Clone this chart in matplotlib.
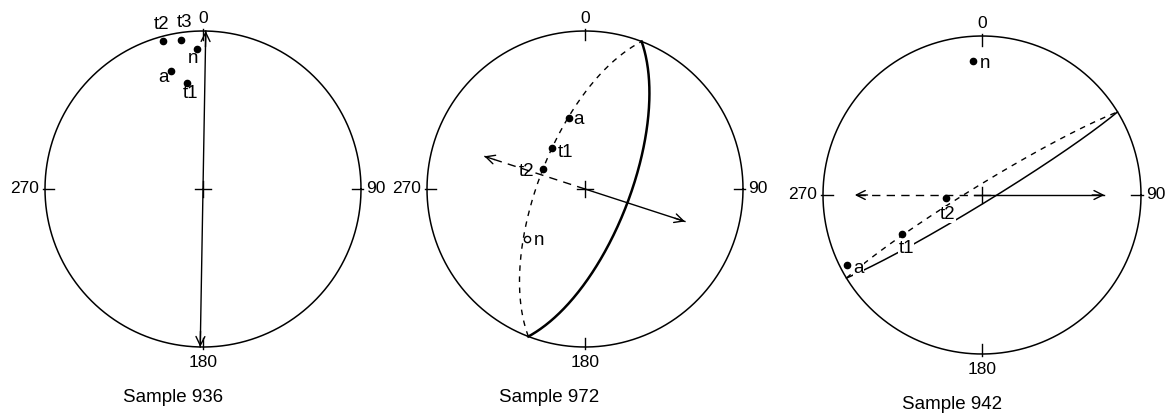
import numpy as np
import matplotlib.pyplot as plt

plt.rcParams['font.family'] = ['Liberation Sans', 'DejaVu Sans']

# ---- data (declination / inclination in degrees) ----
sample_names = ["Sample 936", "Sample 972", "Sample 942"]

# Sample 936
s936_labels = ["t2", "t3", "n", "a", "t1"]
s936_dec = [344.7, 351.5, 357.4, 344.8, 351.4]
s936_inc = [3.5, 5.4, 12.0, 23.6, 32.4]
s936_arrow_dec = [1.0, 181.0]
s936_arrow_len = [1.0, 1.0]
s936_arrow_style = ["solid", "solid"]
s936_plane_dipdir = []
s936_plane_dip = []
s936_plane_style = []

# Sample 972
s972_labels = ["a", "t1", "t2", "n"]
s972_dec = [347.2, 321.4, 295.3, 229.2]
s972_inc = [52.1, 62.9, 66.2, -49.7]   # negative = open symbol
s972_arrow_dec = [288.0, 108.0]
s972_arrow_len = [0.67, 0.665]
s972_arrow_style = ["dashed", "solid"]
s972_plane_dipdir = [291.0, 111.0]
s972_plane_dip = [66.0, 67.0]
s972_plane_style = ["dashed", "solid"]

# Sample 942
s942_labels = ["n", "t2", "t1", "a"]
s942_dec = [356.0, 265.7, 243.8, 242.6]
s942_inc = [16.4, 71.5, 43.3, 4.7]
s942_arrow_dec = [270.0, 90.0]
s942_arrow_len = [0.80, 0.77]
s942_arrow_style = ["dashed", "solid"]
s942_plane_dipdir = [328.5, 148.5]
s942_plane_dip = [85.0, 86.0]
s942_plane_style = ["dashed", "solid"]

# label offsets in pixels (right, down) -- layout only
s936_off = [(-1, -17), (4, -18), (-4, 10), (-7, 7), (4, 11)]
s972_off = [(10, 1), (13, 4), (-17, 2), (12, 1)]
s942_off = [(12, 3), (2, 17), (4, 14), (12, 3)]


def project(dec, inc):
    """Equal-area (Schmidt) projection, returns x (east), y (north)."""
    dec = np.radians(np.asarray(dec, float))
    colat = np.radians(90 - np.abs(np.asarray(inc, float)))
    r = np.sqrt(2) * np.sin(colat / 2)
    return r * np.sin(dec), r * np.cos(dec)


def great_circle(dip_dir, dip, n=300):
    s = np.radians(dip_dir - 90)
    d = np.radians(dip_dir)
    dp = np.radians(dip)
    phi = np.linspace(0, np.pi, n)
    N = np.cos(phi) * np.cos(s) + np.sin(phi) * np.cos(dp) * np.cos(d)
    E = np.cos(phi) * np.sin(s) + np.sin(phi) * np.cos(dp) * np.sin(d)
    D = np.sin(phi) * np.sin(dp)
    trend = np.degrees(np.arctan2(E, N))
    plunge = np.degrees(np.arcsin(np.clip(D, -1, 1)))
    return project(trend, plunge)


def draw_net(ax, name, name_x, labels, decs, incs, offs, arr_dec, arr_len,
             arr_style, pl_dd, pl_dip, pl_style, lw_plane, label_box):
    t = np.linspace(0, 2 * np.pi, 500)
    ax.plot(np.cos(t), np.sin(t), color='k', lw=1.1)
    for ang in (0, 90, 180, 270):
        sx, sy = np.sin(np.radians(ang)), np.cos(np.radians(ang))
        ax.plot([0.94 * sx, 1.01 * sx], [0.94 * sy, 1.01 * sy], color='k', lw=1)
    ax.plot([-0.05, 0.05], [0, 0], color='k', lw=1)
    ax.plot([0, 0], [-0.05, 0.05], color='k', lw=1)

    fs = 12.5
    ax.text(0, 1.03, "0", ha='center', va='bottom', fontsize=fs)
    ax.text(1.035, 0, "90", ha='left', va='center', fontsize=fs)
    ax.text(0, -1.05, "180", ha='center', va='top', fontsize=fs)
    ax.text(-1.035, 0, "270", ha='right', va='center', fontsize=fs)
    ax.text(name_x, -1.32, name, ha='center', va='center', fontsize=13.5)

    # planes
    for dd, dip, st in zip(pl_dd, pl_dip, pl_style):
        gx, gy = great_circle(dd, dip)
        if st == "dashed":
            ax.plot(gx, gy, color='k', lw=1.0, dashes=(4, 4))
        else:
            ax.plot(gx, gy, color='k', lw=lw_plane)

    # arrows from centre
    for dec, ln, st in zip(arr_dec, arr_len, arr_style):
        ex, ey = project(dec, 90 - 2 * np.degrees(np.arcsin(ln / np.sqrt(2))))
        if st == "dashed":
            ax.plot([0, ex], [0, ey], color='k', lw=1.0, dashes=(6, 4.5))
        else:
            ax.plot([0, ex], [0, ey], color='k', lw=1.0)
        ax.annotate('', xy=(ex, ey), xytext=(ex * 0.9, ey * 0.9),
                    arrowprops=dict(arrowstyle='->', lw=1.0, color='k',
                                    shrinkA=0, shrinkB=0, mutation_scale=16))

    # points
    px, py = project(decs, incs)
    for lab, x, y, inc, (dx, dy) in zip(labels, px, py, incs, offs):
        fc = 'k' if inc >= 0 else 'white'
        ax.plot(x, y, 'o', ms=4.5, mfc=fc, mec='k', mew=1, zorder=5)
        kw = {}
        if label_box:
            kw['bbox'] = dict(fc='white', ec='none', pad=0.2)
        ax.annotate(lab, (x, y), xytext=(dx * 0.72, -dy * 0.72),
                    textcoords='offset points', ha='center', va='center',
                    fontsize=13.5, zorder=6, **kw)

    ax.set_xlim(-L, L)
    ax.set_ylim(-L, L)
    ax.set_aspect('equal')
    ax.axis('off')


W, H = 1173, 416
L = 1.3
centers = [(203, 189), (585, 189), (982, 195)]
radii = [158, 158, 159]
name_xs = [-0.19, -0.23, -0.19]

fig = plt.figure(figsize=(W / 100, H / 100), dpi=100)
axes = []
for (cx, cy), R in zip(centers, radii):
    axes.append(fig.add_axes([(cx - L * R) / W, 1 - (cy + L * R) / H,
                              2 * L * R / W, 2 * L * R / H]))

draw_net(axes[0], sample_names[0], name_xs[0], s936_labels, s936_dec, s936_inc,
         s936_off, s936_arrow_dec, s936_arrow_len, s936_arrow_style,
         s936_plane_dipdir, s936_plane_dip, s936_plane_style, 1.1, False)
draw_net(axes[1], sample_names[1], name_xs[1], s972_labels, s972_dec, s972_inc,
         s972_off, s972_arrow_dec, s972_arrow_len, s972_arrow_style,
         s972_plane_dipdir, s972_plane_dip, s972_plane_style, 1.8, False)
draw_net(axes[2], sample_names[2], name_xs[2], s942_labels, s942_dec, s942_inc,
         s942_off, s942_arrow_dec, s942_arrow_len, s942_arrow_style,
         s942_plane_dipdir, s942_plane_dip, s942_plane_style, 1.1, True)

fig.savefig("out.png", dpi=100)
